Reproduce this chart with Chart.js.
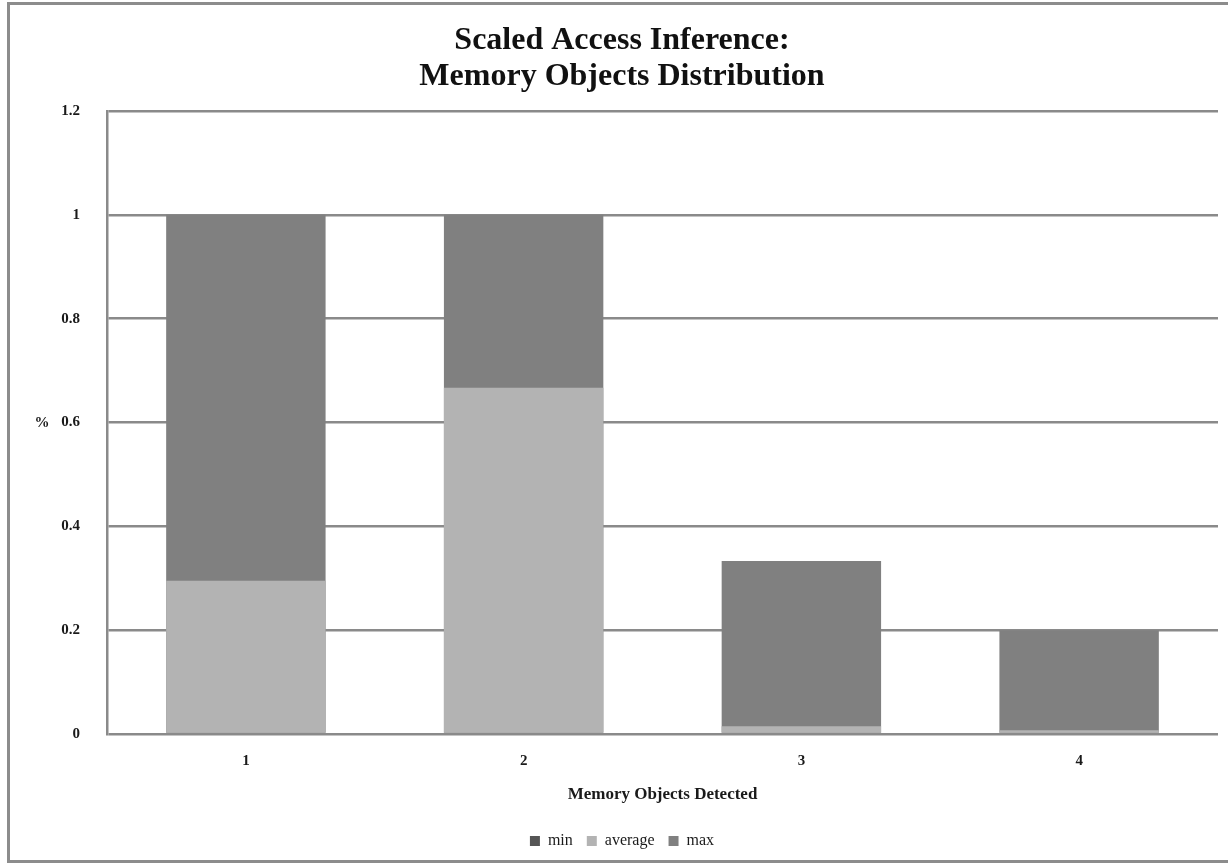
<!DOCTYPE html>
<html>
<head>
<meta charset="utf-8">
<script src="https://cdn.jsdelivr.net/npm/chart.js@4/dist/chart.umd.min.js"></script>
<style>
  html, body { margin: 0; padding: 0; background: #ffffff; }
  #wrap { width: 1228px; height: 864px; position: relative; }
</style>
</head>
<body>
<div id="wrap"><canvas id="c" width="1228" height="864"></canvas></div>
<script>
// Memory objects detected per access (categories)
const categories = ['1', '2', '3', '4'];
// Fraction per category for each statistic
const minValues = [0, 0, 0, 0];
const averageValues = [0.295, 0.667, 0.015, 0.007];
const maxValues = [1, 1, 0.333, 0.2];
// Value axis ticks
const yTicks = [0, 0.2, 0.4, 0.6, 0.8, 1, 1.2];

const serif = '"Liberation Serif", "Times New Roman", serif';
const gridGray = '#8a8a8a';
const textColor = '#1a1a1a';
// The figure frame runs past the right edge, so title and legend sit a bit right of the canvas centre
const figureShift = 13;

// Frame around the figure, horizontal "%" axis caption, and centring of title/legend on the frame
const decorations = {
  id: 'decorations',
  afterLayout(chart) {
    for (const box of [chart.titleBlock, chart.legend]) {
      if (box) {
        box.left += figureShift;
        box.right += figureShift;
      }
    }
  },
  beforeDraw(chart) {
    const ctx = chart.ctx;
    ctx.save();
    ctx.fillStyle = '#ffffff';
    ctx.fillRect(0, 0, chart.width, chart.height);
    ctx.strokeStyle = '#8c8c8c';
    ctx.lineWidth = 3;
    ctx.strokeRect(8.5, 3.5, chart.width + 20, 858);
    ctx.restore();
  },
  afterDraw(chart) {
    const ctx = chart.ctx;
    const area = chart.chartArea;
    ctx.save();
    ctx.fillStyle = textColor;
    ctx.font = 'bold 15px ' + serif;
    ctx.textAlign = 'center';
    ctx.textBaseline = 'middle';
    ctx.fillText('%', 42, (area.top + area.bottom) / 2 + 1);
    ctx.restore();
  }
};

new Chart(document.getElementById('c'), {
  type: 'bar',
  data: {
    labels: categories,
    datasets: [
      { label: 'min', data: minValues, backgroundColor: '#555555' },
      { label: 'average', data: averageValues, backgroundColor: '#b3b3b3' },
      { label: 'max', data: maxValues, backgroundColor: '#808080' }
    ]
  },
  plugins: [decorations],
  options: {
    responsive: false,
    animation: false,
    devicePixelRatio: 1,
    layout: { padding: { left: 0, right: 10, top: 10, bottom: 5 } },
    datasets: {
      bar: { categoryPercentage: 1, barPercentage: 0.574, borderWidth: 0 }
    },
    scales: {
      x: {
        stacked: true,
        grid: { display: false, drawTicks: false },
        border: { display: false },
        ticks: {
          color: textColor,
          font: { family: serif, size: 15, weight: 'bold' },
          padding: 18
        },
        title: {
          display: true,
          text: 'Memory Objects Detected',
          color: textColor,
          font: { family: serif, size: 17, weight: 'bold' },
          padding: { top: 0, bottom: 14 }
        },
        afterFit(scale) { scale.height = 85; }
      },
      y: {
        stacked: false,
        min: 0,
        max: 1.2,
        afterBuildTicks(scale) { scale.ticks = yTicks.map(v => ({ value: v })); },
        grid: { color: gridGray, lineWidth: 2.5, drawTicks: false },
        border: { display: true, color: gridGray, width: 2.5 },
        ticks: {
          color: textColor,
          font: { family: serif, size: 15, weight: 'bold' },
          padding: 27,
          callback: v => String(v)
        },
        afterFit(scale) { scale.width = 107; }
      }
    },
    plugins: {
      title: {
        display: true,
        text: ['Scaled Access Inference:', 'Memory Objects Distribution'],
        color: '#111111',
        font: { family: serif, size: 32, weight: 'bold', lineHeight: 1.15 },
        padding: { top: 12, bottom: 15.4 }
      },
      legend: {
        position: 'bottom',
        labels: {
          color: textColor,
          boxWidth: 10,
          boxHeight: 10,
          padding: 14,
          font: { family: serif, size: 16 }
        }
      },
      tooltip: { enabled: false }
    }
  }
});
</script>
</body>
</html>
